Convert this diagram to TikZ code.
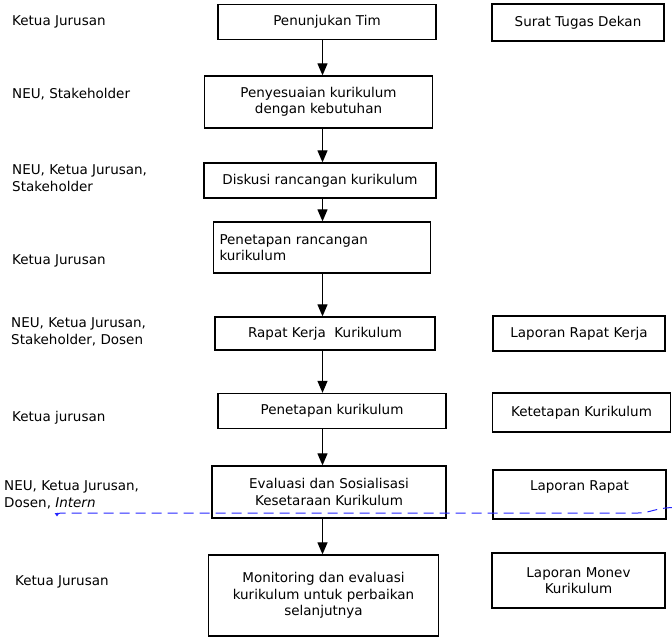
\documentclass[tikz,border=0pt]{standalone}
\usepackage{fontspec}
\setmainfont{DejaVu Sans}
\usetikzlibrary{arrows.meta}

\begin{document}
\begin{tikzpicture}[
		x=1pt, y=-1pt,
		every node/.style={font=\fontsize{13.5}{16.5}\selectfont, inner sep=0pt},
		proc/.style={rectangle, draw, line width=1.3pt, align=center},
		doc/.style={rectangle, draw, line width=1.3pt, align=center},
		who/.style={anchor=west, align=left},
		flow/.style={-{Triangle[width=10pt, length=12pt]}, line width=1.2pt},
		intern/.style={draw=blue!85!white, dash pattern=on 10pt off 6pt, line width=1pt,
			-{Triangle[width=4.5pt, length=3.5pt, fill=blue]}}
	]
  \useasboundingbox (0,0) rectangle (672,641);
  % who is involved
  \node (w_1) [who] at (12,22) {Ketua Jurusan};
  \node (w_2) [who] at (12,94) {NEU, Stakeholder};
  \node (w_3) [who] at (12,178) {NEU, Ketua Jurusan,\\Stakeholder};
  \node (w_4) [who] at (12,261) {Ketua Jurusan};
  \node (w_5) [who] at (11,332) {NEU, Ketua Jurusan,\\Stakeholder, Dosen};
  \node (w_6) [who] at (12,418) {Ketua jurusan};
  \node (w_7) [who] at (4,495) {NEU, Ketua Jurusan,\\Dosen, \textit{Intern}};
  \node (w_8) [who] at (15,582) {Ketua Jurusan};
  % steps
  \node (tim) [proc, minimum width=218pt, minimum height=35pt] at (327,22) {Penunjukan Tim};
  \node (sesuai) [proc, minimum width=228pt, minimum height=52pt] at (318.5,102) {Penyesuaian kurikulum\\dengan kebutuhan};
  \node (diskusi) [proc, minimum width=232pt, minimum height=35pt] at (320,180.5) {Diskusi rancangan kurikulum};
  \node (rancang) [proc, align=left, text width=205pt, inner xsep=6pt, minimum height=51pt] at (322,247.5) {Penetapan rancangan\\kurikulum};
  \node (rapat) [proc, minimum width=220pt, minimum height=33pt] at (325,333.5) {Rapat Kerja\ \ Kurikulum};
  \node (tetap) [proc, minimum width=228pt, minimum height=35pt] at (332,411) {Penetapan kurikulum};
  \node (eval) [proc, minimum width=234pt, minimum height=52pt] at (329,492) {Evaluasi dan Sosialisasi\\Kesetaraan Kurikulum};
  \node (monev) [proc, minimum width=230pt, minimum height=81pt] at (323.5,595.5) {Monitoring dan evaluasi\\kurikulum untuk perbaikan\\selanjutnya};
  % documents
  \node (surat) [doc, minimum width=172pt, minimum height=37pt] at (578,22.5) {Surat Tugas Dekan};
  \node (lap_kerja) [doc, minimum width=172pt, minimum height=35pt] at (579,333.5) {Laporan Rapat Kerja};
  \node (ketetapan) [doc, minimum width=178pt, minimum height=39pt] at (581.5,412.5) {Ketetapan Kurikulum};
  \node (lap_rapat) [doc, minimum width=173pt, minimum height=49pt, text depth=17pt] at (579.5,494.5) {Laporan Rapat};
  \node (lap_monev) [doc, minimum width=173pt, minimum height=55pt] at (578.5,580.5) {Laporan Monev\\Kurikulum};
  % flow
  \coordinate (ax) at (322.5,0);
  \draw[flow] (tim.south -| ax) -- (sesuai.north -| ax);
  \draw[flow] (sesuai.south -| ax) -- (diskusi.north -| ax);
  \draw[flow] (diskusi.south -| ax) -- (rancang.north -| ax);
  \draw[flow] (rancang.south -| ax) -- (rapat.north -| ax);
  \draw[flow] (rapat.south -| ax) -- (tetap.north -| ax);
  \draw[flow] (tetap.south -| ax) -- (eval.north -| ax);
  \draw[flow] (eval.south -| ax) -- (monev.north -| ax);
  % dashed return line
  \coordinate (in_r) at (673,507.5);
  \coordinate (in_m) at (638,513);
  \coordinate (in_k) at (61,513);
  \coordinate (in_l) at (57,516.5);
  \draw[intern] (in_r) .. controls (655,508) and (650,513) .. (in_m) -- (in_k) to[out=180, in=90] (in_l);
\end{tikzpicture}
\end{document}
